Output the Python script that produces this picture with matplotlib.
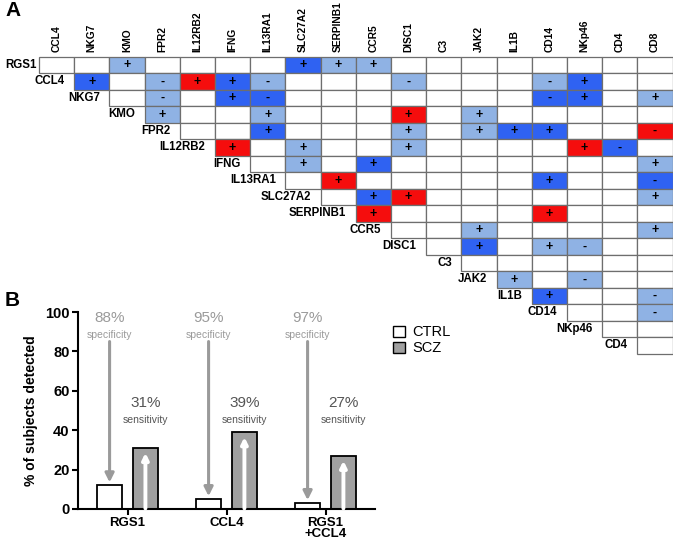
import matplotlib
matplotlib.use('Agg')
import matplotlib.pyplot as plt
from matplotlib.patches import Rectangle, Patch

plt.rcParams['font.family'] = ['Liberation Sans', 'DejaVu Sans']

# ---------------- data ----------------
col_genes = ['CCL4', 'NKG7', 'KMO', 'FPR2', 'IL12RB2', 'IFNG', 'IL13RA1', 'SLC27A2',
             'SERPINB1', 'CCR5', 'DISC1', 'C3', 'JAK2', 'IL1B', 'CD14', 'NKp46', 'CD4', 'CD8']
row_genes = ['RGS1', 'CCL4', 'NKG7', 'KMO', 'FPR2', 'IL12RB2', 'IFNG', 'IL13RA1', 'SLC27A2',
             'SERPINB1', 'CCR5', 'DISC1', 'C3', 'JAK2', 'IL1B', 'CD14', 'NKp46', 'CD4']

# L = light blue, D = dark blue, R = red ; sign shown in the cell
assoc = {
    'RGS1': {'KMO': 'L+', 'SLC27A2': 'D+', 'SERPINB1': 'L+', 'CCR5': 'L+'},
    'CCL4': {'NKG7': 'D+', 'FPR2': 'L-', 'IL12RB2': 'R+', 'IFNG': 'D+', 'IL13RA1': 'L-',
             'DISC1': 'L-', 'CD14': 'L-', 'NKp46': 'D+'},
    'NKG7': {'FPR2': 'L-', 'IFNG': 'D+', 'IL13RA1': 'D-', 'CD14': 'D-', 'NKp46': 'D+', 'CD8': 'L+'},
    'KMO': {'FPR2': 'L+', 'IL13RA1': 'L+', 'DISC1': 'R+', 'JAK2': 'L+'},
    'FPR2': {'IL13RA1': 'D+', 'DISC1': 'L+', 'JAK2': 'L+', 'IL1B': 'D+', 'CD14': 'D+', 'CD8': 'R-'},
    'IL12RB2': {'IFNG': 'R+', 'SLC27A2': 'L+', 'DISC1': 'L+', 'NKp46': 'R+', 'CD4': 'D-'},
    'IFNG': {'SLC27A2': 'L+', 'CCR5': 'D+', 'CD8': 'L+'},
    'IL13RA1': {'SERPINB1': 'R+', 'CD14': 'D+', 'CD8': 'D-'},
    'SLC27A2': {'CCR5': 'D+', 'DISC1': 'R+', 'CD8': 'L+'},
    'SERPINB1': {'CCR5': 'R+', 'CD14': 'R+'},
    'CCR5': {'JAK2': 'L+', 'CD8': 'L+'},
    'DISC1': {'JAK2': 'D+', 'CD14': 'L+', 'NKp46': 'L-'},
    'C3': {},
    'JAK2': {'IL1B': 'L+', 'NKp46': 'L-'},
    'IL1B': {'CD14': 'D+', 'CD8': 'L-'},
    'CD14': {'CD8': 'L-'},
    'NKp46': {},
    'CD4': {},
}

groups = ['RGS1', 'CCL4', 'RGS1\n+CCL4']
ctrl_pct = [12, 5, 3]
scz_pct = [31, 39, 27]

# ---------------- styles ----------------
cell_colors = {'L': '#8fb2e4', 'D': '#2f62f2', 'R': '#f50d0d'}
grid_color = '#6e6e6e'

W, H = 673, 543
fig = plt.figure(figsize=(W / 100, H / 100), dpi=100)

# ---------------- panel A ----------------
axA = fig.add_axes([39 / W, 1 - 353.5 / H, 633.5 / W, 296.8 / H])
axA.set_xlim(0, len(col_genes))
axA.set_ylim(len(row_genes), 0)
axA.axis('off')

for i, r in enumerate(row_genes):
    for j in range(i, len(col_genes)):
        code = assoc[r].get(col_genes[j])
        fc = cell_colors[code[0]] if code else 'white'
        axA.add_patch(Rectangle((j, i), 1, 1, facecolor=fc, edgecolor=grid_color,
                                lw=0.9, clip_on=False))
        if code:
            axA.text(j + 0.5, i + 0.52, code[1], ha='center', va='center',
                     fontsize=9, fontweight='bold', color='black')
    axA.text(max(i - 0.27, -0.06), i + 0.5, r, ha='right', va='center',
             fontsize=8.3, fontweight='bold')

for j, c in enumerate(col_genes):
    axA.text(j + 0.5, -0.28, c, rotation=90, ha='center', va='bottom',
             fontsize=7.4, fontweight='bold')

fig.text(5 / W, 1 - 11 / H, 'A', fontsize=15, fontweight='bold', va='center', ha='left')
fig.text(5 / W, 1 - 300 / H, 'B', fontsize=15, fontweight='bold', va='center', ha='left')

# ---------------- panel B ----------------
axB = fig.add_axes([78 / W, 1 - 509 / H, 297 / W, 197 / H])
x = list(range(len(groups)))
off, bw = 0.181, 0.252
xc = [v - off for v in x]
xs = [v + off for v in x]
axB.bar(xc, ctrl_pct, width=bw, color='white', edgecolor='black', lw=1.3, zorder=2)
axB.bar(xs, scz_pct, width=bw, color='#a0a0a0', edgecolor='black', lw=1.3, zorder=2)

for k in range(len(groups)):
    # specificity arrows
    axB.annotate('', xy=(xc[k], ctrl_pct[k] + 1.5), xytext=(xc[k], 85),
                 arrowprops=dict(arrowstyle='-|>', color='#9a9a9a', lw=2.2,
                                 mutation_scale=13, shrinkA=0, shrinkB=0), zorder=3)
    # sensitivity arrows
    axB.annotate('', xy=(xs[k], scz_pct[k] - 2.5), xytext=(xs[k], 0.3),
                 arrowprops=dict(arrowstyle='-|>', color='white', lw=2.8,
                                 mutation_scale=9, shrinkA=0, shrinkB=0), zorder=3)
    axB.text(xc[k], 97, f'{100 - ctrl_pct[k]}%', ha='center', va='center',
             fontsize=11, color='#9a9a9a')
    axB.text(xc[k], 88.5, 'specificity', ha='center', va='center',
             fontsize=7.5, color='#9a9a9a')
    axB.text(xs[k], 54, f'{scz_pct[k]}%', ha='center', va='center',
             fontsize=11, color='#555555')
    axB.text(xs[k], 45, 'sensitivity', ha='center', va='center',
             fontsize=7.5, color='#555555')

axB.set_xlim(-0.5, 2.5)
axB.set_ylim(0, 100)
axB.set_yticks([0, 20, 40, 60, 80, 100])
axB.set_xticks(x)
axB.set_xticklabels(groups, fontsize=9.5, fontweight='bold', linespacing=0.95)
for t in axB.get_yticklabels():
    t.set_fontweight('bold')
    t.set_fontsize(10.5)
axB.spines['top'].set_visible(False)
axB.spines['right'].set_visible(False)
axB.spines['left'].set_linewidth(1.5)
axB.spines['bottom'].set_linewidth(1.5)
axB.tick_params(width=1.5, length=4, pad=2)
axB.tick_params(axis='x', pad=1.5)
axB.set_ylabel('% of subjects detected', fontsize=10, fontweight='bold', labelpad=5)

handles = [Patch(facecolor='white', edgecolor='black', lw=1.0, label='CTRL'),
           Patch(facecolor='#a0a0a0', edgecolor='black', lw=1.0, label='SCZ')]
fig.legend(handles=handles, loc='upper left', bbox_to_anchor=(383 / W, 1 - 315 / H),
           frameon=False, fontsize=10.5, handlelength=0.8, handleheight=0.8,
           handletextpad=0.5, labelspacing=0.15, borderpad=0.2)

fig.savefig('out.png', dpi=100)
